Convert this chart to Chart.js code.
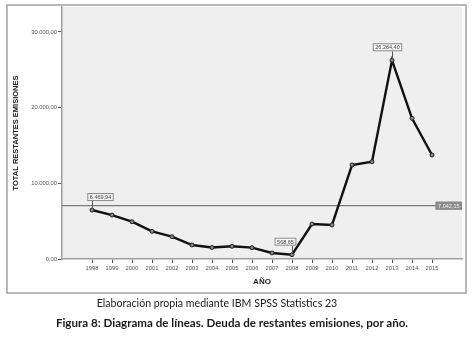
<!DOCTYPE html>
<html>
<head>
<meta charset="utf-8">
<script src="https://cdn.jsdelivr.net/npm/chart.js@4"></script>
<style>
  body { margin: 0; background: #fff; }
  #wrap { position: relative; width: 472px; height: 347px; }
  #chartBox { position: absolute; left: 0; top: 0; width: 472px; height: 300px; }
  .cap { position: absolute; left: 0; width: 472px; font-family: Lato, "Open Sans", sans-serif; color: #1a1a1a; white-space: nowrap; }
  #source { top: 297px; font-size: 10.6px; text-indent: -38px; text-align: center; }
  #figTitle { top: 316px; font-size: 11.6px; font-weight: bold; text-indent: -8px; text-align: center; }
</style>
</head>
<body>
<div id="wrap">
  <div id="chartBox"><canvas id="deuda"></canvas></div>
  <div class="cap" id="source">Elaboración propia mediante IBM SPSS Statistics 23</div>
  <div class="cap" id="figTitle">Figura 8: Diagrama de líneas. Deuda de restantes emisiones, por año.</div>
</div>
<script>
// años y deuda total de restantes emisiones
const years = [1998, 1999, 2000, 2001, 2002, 2003, 2004, 2005, 2006, 2007, 2008, 2009, 2010, 2011, 2012, 2013, 2014, 2015];
const totals = [6469.94, 5810, 4930, 3660, 2950, 1850, 1520, 1680, 1500, 800, 568.65, 4620, 4500, 12420, 12850, 26264.40, 18590, 13740];
const yTicks = [0, 10000, 20000, 30000];
const labeledYears = [1998, 2008, 2013];
const refValue = 7042.15;

// desplazamiento horizontal de cada etiqueta respecto a su punto
const labelShift = { 1998: 8.5, 2008: -6.5, 2013: -4.5 };

function fmt(v) {
  const parts = v.toFixed(2).split('.');
  parts[0] = parts[0].replace(/\B(?=(\d{3})+(?!\d))/g, '.');
  return parts[0] + ',' + parts[1];
}

function drawBox(ctx, cx, top, text, fill, color) {
  ctx.font = '5.5px "Liberation Sans", Arial, sans-serif';
  const w = ctx.measureText(text).width + 5;
  const h = 8;
  ctx.fillStyle = fill;
  ctx.fillRect(cx - w / 2, top, w, h);
  ctx.strokeStyle = '#8a8a8a';
  ctx.lineWidth = 1;
  ctx.strokeRect(cx - w / 2 + 0.5, top + 0.5, w - 1, h - 1);
  ctx.fillStyle = color;
  ctx.textAlign = 'center';
  ctx.textBaseline = 'middle';
  ctx.fillText(text, cx, top + h / 2 + 0.5);
}

const spssLook = {
  id: 'spssLook',
  beforeDraw(chart) {
    const { ctx, chartArea } = chart;
    ctx.save();
    ctx.fillStyle = '#fff';
    ctx.fillRect(0, 0, chart.width, chart.height);
    // marco exterior
    ctx.strokeStyle = '#a0a0a0';
    ctx.lineWidth = 1.5;
    ctx.strokeRect(7, 5, 459, 288);
    ctx.fillStyle = '#efefef';
    ctx.fillRect(chartArea.left, chartArea.top, chartArea.right - chartArea.left, chartArea.bottom - chartArea.top);
    ctx.restore();
  },
  beforeDatasetsDraw(chart) {
    const { ctx, chartArea, scales } = chart;
    const y = scales.y.getPixelForValue(refValue);
    ctx.save();
    ctx.strokeStyle = '#7a7a7a';
    ctx.lineWidth = 1.2;
    ctx.beginPath();
    ctx.moveTo(chartArea.left, y);
    ctx.lineTo(chartArea.right, y);
    ctx.stroke();
    ctx.restore();
  },
  afterDatasetsDraw(chart) {
    const { ctx, chartArea, scales } = chart;
    ctx.save();
    labeledYears.forEach(yr => {
      const v = totals[years.indexOf(yr)];
      const px = scales.x.getPixelForValue(yr);
      const py = scales.y.getPixelForValue(v);
      const top = py - 17;
      ctx.strokeStyle = '#555';
      ctx.lineWidth = 1;
      ctx.beginPath();
      ctx.moveTo(px + 0.5, top + 8);
      ctx.lineTo(px + 0.5, py - 1);
      ctx.stroke();
      drawBox(ctx, px + labelShift[yr], top, fmt(v), '#f7f7f7', '#444');
    });
    // etiqueta de la línea de referencia
    const ry = scales.y.getPixelForValue(refValue);
    ctx.font = '5.5px "Liberation Sans", Arial, sans-serif';
    const w = ctx.measureText(fmt(refValue)).width + 5;
    drawBox(ctx, chartArea.right - w / 2, ry - 4, fmt(refValue), '#8c8c8c', '#f2f2f2');
    ctx.restore();
  }
};

new Chart(document.getElementById('deuda'), {
  type: 'line',
  data: {
    datasets: [{
      data: years.map((yr, i) => ({ x: yr, y: totals[i] })),
      borderColor: '#111',
      borderWidth: 2.4,
      tension: 0,
      pointRadius: 2,
      pointBackgroundColor: '#8a8a8a',
      pointBorderColor: '#222',
      pointBorderWidth: 1
    }]
  },
  options: {
    responsive: true,
    maintainAspectRatio: false,
    animation: false,
    layout: { padding: { top: 7, right: 10, left: 0, bottom: 0 } },
    plugins: { legend: { display: false }, tooltip: { enabled: false } },
    scales: {
      x: {
        type: 'linear',
        min: 1996.5,
        max: 2016.5,
        afterBuildTicks: s => { s.ticks = years.map(v => ({ value: v })); },
        afterFit: s => { s.height = 41; },
        ticks: {
          callback: v => String(v),
          autoSkip: false,
          maxRotation: 0,
          padding: 2,
          color: '#555',
          font: { family: '"Liberation Sans", Arial, sans-serif', size: 5.8 }
        },
        grid: { drawOnChartArea: false, tickLength: 4, color: '#555' },
        border: { color: '#a0a0a0', width: 1.5 },
        title: {
          display: true,
          text: 'AÑO',
          color: '#222',
          padding: { top: 0, bottom: 13.2 },
          font: { family: '"Liberation Sans", Arial, sans-serif', size: 8, weight: 'bold' }
        }
      },
      y: {
        min: 0,
        max: 33300,
        afterBuildTicks: s => { s.ticks = yTicks.map(v => ({ value: v })); },
        afterFit: s => { s.width = 62; },
        ticks: {
          callback: v => fmt(v),
          padding: 1,
          color: '#555',
          font: { family: '"Liberation Sans", Arial, sans-serif', size: 5.8 }
        },
        grid: { drawOnChartArea: false, tickLength: 4, color: '#555' },
        border: { color: '#a0a0a0', width: 1.5 },
        title: {
          display: true,
          text: 'TOTAL RESTANTES EMISIONES',
          color: '#222',
          padding: { top: 11.5, bottom: 0 },
          font: { family: '"Liberation Sans", Arial, sans-serif', size: 7.5, weight: 'bold' }
        }
      }
    }
  },
  plugins: [spssLook]
});
</script>
</body>
</html>
